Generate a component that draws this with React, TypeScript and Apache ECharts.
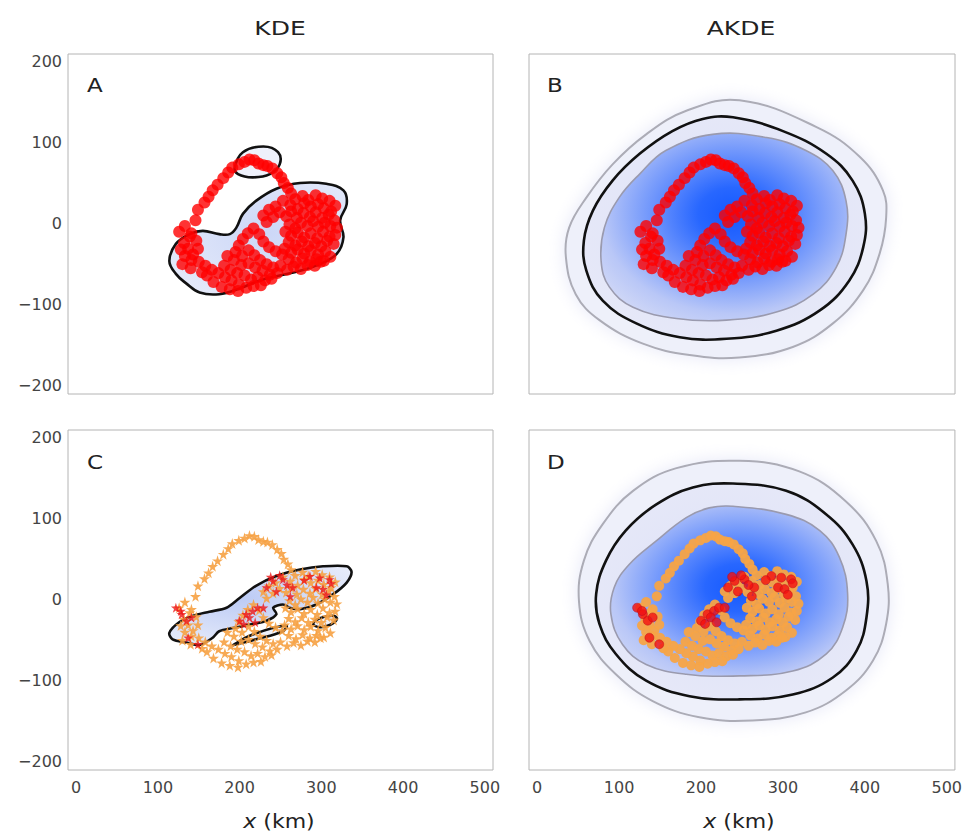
import React, { useEffect, useRef } from "react";
import * as echarts from "echarts";

const X_TICKS = [0, 100, 200, 300, 400, 500];
const Y_TICKS = [-200, -100, 0, 100, 200];
const PANEL_TITLES = ["KDE", "AKDE"];
const PANEL_LETTERS = ["A", "B", "C", "D"];

// KDE contour (panel A)
const KDE_A_MAIN = [[114,-46],[122,-25],[139,-13],[155,-9],[175,-13],[188,-13],[196,-5],[204,12],[220,28],[245,43],[274,50],[306,49],[327,41],[331,24],[323,4],[327,-17],[319,-37],[298,-50],[274,-58],[249,-64],[225,-70],[200,-80],[175,-87],[151,-85],[135,-74],[122,-62]];
const KDE_A_SMALL = [[194,69],[204,88],[229,95],[247,88],[249,73],[237,61],[216,57],[198,61]];

// KDE contours (panel C)
const KDE_C_MAIN = [[114,-41],[126,-28],[143,-20],[163,-15],[184,-10],[200,2],[220,17],[245,29],[274,37],[302,41],[331,41],[337,34],[331,21],[315,7],[294,-6],[274,-12],[261,-10],[253,-6],[241,-10],[245,-18],[233,-26],[212,-31],[192,-35],[175,-39],[167,-47],[151,-56],[135,-53],[118,-49]];
const KDE_C_SMALL1 = [[192,-56],[216,-43],[257,-32],[253,-39],[220,-49],[196,-55]];
const KDE_C_SMALL2 = [[290,-30],[298,-23],[315,-20],[319,-24],[311,-31],[298,-34]];

// AKDE contours (panel B): outer grey, black, inner grey
const AKDE_B_OUTER = [[247,152],[341,119],[394,82],[422,41],[426,8],[418,-37],[398,-82],[361,-123],[312,-152],[247,-165],[186,-162],[129,-148],[76,-119],[47,-87],[35,-41],[39,-5],[60,32],[92,73],[133,110],[182,139]];
const AKDE_B_MID = [[239,131],[300,114],[353,86],[385,53],[400,12],[398,-29],[381,-70],[345,-107],[292,-132],[231,-142],[174,-140],[121,-123],[80,-95],[60,-58],[57,-21],[68,16],[92,53],[125,86],[165,114],[202,129]];
const AKDE_B_INNER = [[214,110],[280,106],[328,90],[361,65],[377,28],[377,-13],[365,-54],[337,-87],[292,-109],[231,-119],[170,-117],[117,-103],[88,-78],[78,-46],[82,-5],[100,32],[125,61],[157,90]];

// AKDE contours (panel D)
const AKDE_D_OUTER = [[247,171],[320,158],[377,121],[414,72],[428,19],[426,-30],[410,-75],[377,-112],[328,-139],[263,-149],[198,-145],[141,-125],[96,-92],[64,-51],[51,-2],[57,48],[80,93],[117,134],[170,162]];
const AKDE_D_MID = [[239,143],[304,134],[353,105],[385,68],[402,23],[402,-22],[390,-63],[361,-96],[312,-117],[247,-123],[186,-119],[133,-100],[96,-67],[76,-30],[72,7],[84,48],[108,85],[145,117],[190,138]];
const AKDE_D_INNER = [[239,115],[304,105],[345,85],[369,52],[379,7],[373,-34],[353,-67],[312,-88],[247,-94],[182,-92],[133,-80],[104,-55],[90,-18],[94,15],[112,43],[145,72],[182,101],[210,113]];

// relocation track (km)
const TRACK_ARC = [
[126,-10],[133,-3],[141,-12],[146,4],[149,17],[157,26],[162,33],[167,41],[173,48],[180,56],[186,63],[191,69],[199,73],[206,76],[212,79],[218,78],[223,74],[229,72],[234,71],[240,68],[246,62],[251,57],[254,50],[259,44],[263,37]
];
const TRACK_EAST = [
[268,30],[277,34],[284,29],[293,35],[301,31],[310,28],[317,22],[312,15],[303,19],[296,24],[287,21],[279,25],[271,18],[262,23],[253,28],[244,21],[236,17],[229,10],[233,2],[241,8],[249,14],[257,9],[263,15],[270,7],[278,13],[286,8],[293,14],[301,7],[309,11],[316,4],[319,-5],[311,-3],[304,1],[296,-4],[290,3],[283,-3],[275,1],[268,-6],[261,-1],[256,-10],[263,-15],[271,-11],[279,-17],[287,-12],[295,-18],[302,-10],[310,-16],[317,-14],[315,-25],[307,-21],[300,-28],[292,-24],[284,-28],[276,-22],[268,-27],[260,-23],[255,-31],[263,-36],[271,-32],[279,-37],[287,-33],[296,-38],[305,-34],[311,-41],[303,-46],[294,-44],[286,-47],[277,-43],[269,-48],[260,-44],[252,-38]
];
const TRACK_SOUTH = [
[244,-34],[236,-29],[229,-22],[224,-13],[217,-6],[210,-12],[204,-19],[199,-27],[195,-35],[203,-40],[211,-33],[218,-39],[225,-45],[233,-50],[241,-54],[250,-52],[258,-57],[266,-53],[275,-56],[283,-51],[292,-52],[299,-47],[246,-61],[237,-63],[228,-58],[219,-54],[211,-49],[202,-51],[193,-45],[185,-40],[147,-21],[139,-16],[132,-24],[137,-31],[143,-38],[149,-31],[181,-52],[189,-57],[197,-61],[206,-64],[214,-69],[222,-66],[231,-70],[239,-68],[226,-76],[217,-77],[208,-79],[199,-75],[190,-70],[182,-66],[174,-61],[166,-57],[158,-52],[150,-47],[141,-45],[133,-40],[128,-32],[168,-72],[160,-64],[178,-78],[188,-81],[198,-83],[154,-60],[130,-50],[140,-55]
];
const TRACK = [...TRACK_ARC, ...TRACK_EAST, ...TRACK_SOUTH];

// coarse subset of the track (panels C, D)
const SUBSET = [
[122,-10],[129,-18],[135,-26],[141,-22],[137,-47],[149,-55],[128,-14],
[200,-26],[208,-18],[216,-14],[205,-30],[212,-22],[222,-10],[229,-10],[219,-28],
[233,15],[241,23],[253,25],[265,15],[245,10],[258,18],[238,28],[249,30],[262,4],
[286,29],[298,27],[310,25],[294,15],[302,13],[306,6],[312,20],[279,24]
];

const FONT = "DejaVu Sans, Liberation Sans, sans-serif";
const STAR = "path://M50,0 L61,35 L98,35 L68,57 L79,91 L50,70 L21,91 L32,57 L2,35 L39,35 Z";

const GRIDS = [
  { left: 68, top: 54, width: 425, height: 340 },
  { left: 529, top: 54, width: 426, height: 340 },
  { left: 68, top: 430, width: 425, height: 340 },
  { left: 529, top: 430, width: 426, height: 340 },
];

const fmt = (v: number) => (v < 0 ? "\u2212" + Math.abs(v) : String(v));

function poly(pts: number[][], api: any, style: any, smooth = 0.4) {
  return {
    type: "polygon",
    shape: { points: pts.map((p) => api.coord(p)), smooth },
    style,
  };
}

function radial(x: number, y: number, r: number, stops: [number, string][]) {
  return {
    type: "radial",
    x, y, r,
    colorStops: stops.map(([offset, color]) => ({ offset, color })),
  };
}

function contourSeries(idx: number, build: (api: any) => any[]) {
  return {
    type: "custom",
    coordinateSystem: "cartesian2d",
    xAxisIndex: idx,
    yAxisIndex: idx,
    data: [[0, 0]],
    silent: true,
    z: 1,
    renderItem: (_p: any, api: any) => ({ type: "group", children: build(api) }),
  };
}

function akde(outer: number[][], mid: number[][], inner: number[][], cx: number, cy: number) {
  return (api: any) => [
    poly(outer, api, {
      fill: "#eef0fa",
      stroke: "#acacb6",
      lineWidth: 2,
      shadowBlur: 18,
      shadowColor: "rgba(220,223,245,0.7)",
    }),
    poly(mid, api, {
      fill: radial(0.5, 0.5, 0.6, [[0, "#dde1f8"], [1, "#e7e9f8"]]),
      stroke: "#111",
      lineWidth: 2.6,
    }),
    poly(inner, api, {
      fill: radial(cx, cy, 0.78, [[0, "#1459ff"], [0.18, "#2867ff"], [0.42, "#6e95fc"], [0.68, "#b9c7f7"], [0.88, "#d6dcf6"], [1, "#dfe2f6"]]),
      stroke: "#9a9aae",
      lineWidth: 1.6,
    }),
  ];
}

export default function App() {
  const ref = useRef<HTMLDivElement>(null);
  useEffect(() => {
    if (!ref.current) return;
    const chart = echarts.init(ref.current, null, { renderer: "svg" });
    const xAxes = GRIDS.map((_, i) => ({
      type: "value",
      gridIndex: i,
      min: -10,
      max: 510,
      axisLine: { show: false },
      axisTick: { show: false },
      splitLine: { show: false },
      axisLabel: {
        show: i >= 2,
        customValues: X_TICKS,
        formatter: fmt,
        fontFamily: FONT,
        fontSize: 16,
        color: "#444",
        margin: 9,
      },
    }));
    const yAxes = GRIDS.map((_, i) => ({
      type: "value",
      gridIndex: i,
      min: -210,
      max: 209,
      axisLine: { show: false },
      axisTick: { show: false },
      splitLine: { show: false },
      axisLabel: {
        show: i % 2 === 0,
        customValues: Y_TICKS,
        formatter: fmt,
        fontFamily: FONT,
        fontSize: 16,
        color: "#444",
        margin: 6,
      },
    }));

    const text = (t: string, x: number, y: number, size: number, align: string, sx: number) => ({
      type: "text",
      x,
      y,
      scaleX: sx,
      style: {
        text: t,
        fontFamily: FONT,
        fontSize: size,
        fill: "#222",
        textAlign: align,
        textVerticalAlign: "middle",
      },
    });
    const xname = (x: number) => ({
      type: "text",
      x,
      y: 821,
      scaleX: 1.1,
      style: {
        text: "{i|x} (km)",
        fontFamily: FONT,
        fontSize: 20,
        fill: "#222",
        textAlign: "center",
        textVerticalAlign: "middle",
        rich: { i: { fontStyle: "italic", fontFamily: FONT, fontSize: 20, fill: "#222" } },
      },
    });

    const option = {
      animation: false,
      backgroundColor: "#fff",
      grid: GRIDS.map((g) => ({
        ...g,
        show: true,
        borderColor: "#b4b4b4",
        borderWidth: 1,
        backgroundColor: "transparent",
      })),
      xAxis: xAxes,
      yAxis: yAxes,
      graphic: [
        text(PANEL_TITLES[0], 280, 28, 20, "center", 1.25),
        text(PANEL_TITLES[1], 741, 28, 20, "center", 1.25),
        text(PANEL_LETTERS[0], 87, 85, 20, "left", 1.15),
        text(PANEL_LETTERS[1], 547, 85, 20, "left", 1.15),
        text(PANEL_LETTERS[2], 87, 462, 20, "left", 1.15),
        text(PANEL_LETTERS[3], 547, 462, 20, "left", 1.15),
        xname(279),
        xname(739),
      ],
      series: [
        contourSeries(0, (api) => [
          poly(KDE_A_MAIN, api, {
            fill: radial(0.55, 0.45, 0.7, [[0, "#ccd7f7"], [1, "#e6ebfa"]]),
            stroke: "#111",
            lineWidth: 2.6,
          }),
          poly(KDE_A_SMALL, api, { fill: "#eef1fb", stroke: "#111", lineWidth: 2.6 }),
        ]),
        contourSeries(1, akde(AKDE_B_OUTER, AKDE_B_MID, AKDE_B_INNER, 0.535, 0.43)),
        contourSeries(2, (api) => [
          poly(KDE_C_MAIN, api, {
            fill: radial(0.4, 0.4, 0.8, [[0, "#bccbf5"], [1, "#eef1fb"]]),
            stroke: "#111",
            lineWidth: 2.6,
          }, 0.3),
          poly(KDE_C_SMALL1, api, { fill: "#eef1fb", stroke: "#111", lineWidth: 2.6 }),
          poly(KDE_C_SMALL2, api, { fill: "#eef1fb", stroke: "#111", lineWidth: 2.6 }),
        ]),
        contourSeries(3, akde(AKDE_D_OUTER, AKDE_D_MID, AKDE_D_INNER, 0.54, 0.48)),
        {
          type: "scatter", xAxisIndex: 0, yAxisIndex: 0, data: TRACK, z: 3,
          symbol: "circle", symbolSize: 12, itemStyle: { color: "#ff0000" }, silent: true,
        },
        {
          type: "scatter", xAxisIndex: 1, yAxisIndex: 1, data: TRACK, z: 3,
          symbol: "circle", symbolSize: 12, itemStyle: { color: "#ff0000" }, silent: true,
        },
        {
          type: "scatter", xAxisIndex: 2, yAxisIndex: 2, data: TRACK, z: 2,
          symbol: STAR, symbolSize: 11, itemStyle: { color: "#f6a143", opacity: 0.9 }, silent: true,
        },
        {
          type: "scatter", xAxisIndex: 2, yAxisIndex: 2, data: SUBSET, z: 3,
          symbol: STAR, symbolSize: 10, itemStyle: { color: "#ee1515" }, silent: true,
        },
        {
          type: "scatter", xAxisIndex: 3, yAxisIndex: 3, data: TRACK, z: 2,
          symbol: "circle", symbolSize: 10, itemStyle: { color: "#f7a446", opacity: 0.95 }, silent: true,
        },
        {
          type: "scatter", xAxisIndex: 3, yAxisIndex: 3, data: SUBSET, z: 3,
          symbol: "circle", symbolSize: 9, itemStyle: { color: "#f21010", borderColor: "#b80a1c", borderWidth: 0.6 }, silent: true,
        },
      ],
    };
    chart.setOption(option as any);
    return () => chart.dispose();
  }, []);
  return (
    <div
      ref={ref}
      style={{ position: "absolute", left: 0, top: 0, width: 965, height: 834 }}
    />
  );
}
